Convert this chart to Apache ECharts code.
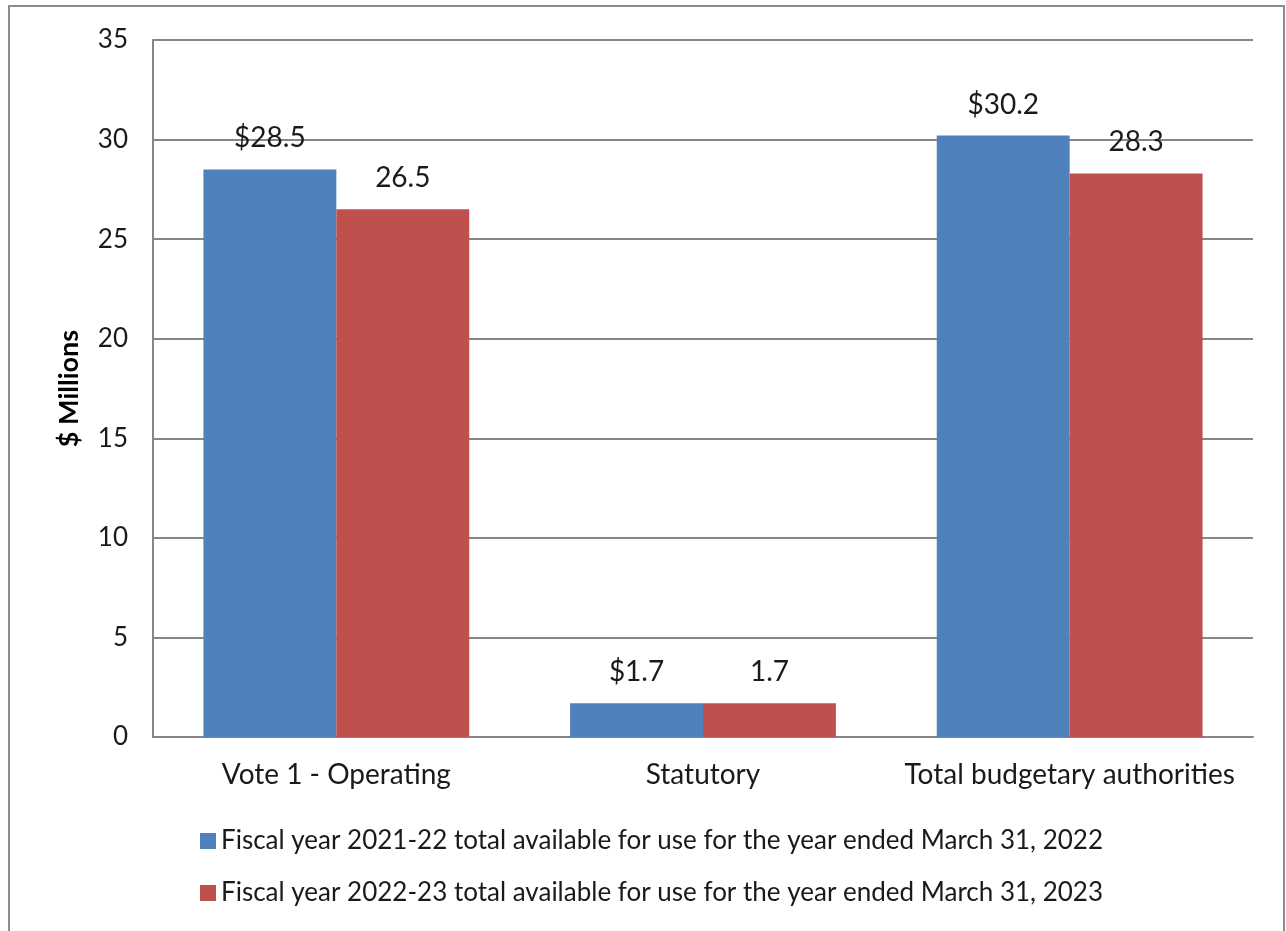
<!DOCTYPE html>
<html>
<head>
<meta charset="utf-8">
<script src="https://cdn.jsdelivr.net/npm/echarts@6/dist/echarts.min.js"></script>
<style>
	html, body { margin: 0; padding: 0; background: #fff; }
	#frame { position: absolute; left: 8px; top: 5px; width: 1277px; height: 930px; border: 2px solid #8c8c8c; border-bottom: none; box-sizing: border-box; }
	#chart { position: absolute; left: 0; top: 0; width: 1286px; height: 931px; }
</style>
</head>
<body>
<div id="frame"></div>
<div id="chart"></div>
<script>
( function() {

	const categories = ['Vote 1 - Operating', 'Statutory', 'Total budgetary authorities'];
	const seriesNames = [
		'Fiscal year 2021-22 total available for use for the year ended March 31, 2022',
		'Fiscal year 2022-23 total available for use for the year ended March 31, 2023'
	];
	const fy2122 = [28.5, 1.7, 30.2];
	const fy2223 = [26.5, 1.7, 28.3];
	const yTicks = [0, 5, 10, 15, 20, 25, 30, 35];

	const font = 'Lato, "Open Sans", sans-serif';
	const colors = ['#4f81bd', '#c0504d'];
	const textColor = '#1a1a1a';

	const labelStyle = function( prefix ) {
		return {
			show: true,
			position: 'top',
			distance: 17,
			fontFamily: font,
			fontSize: 28,
			color: textColor,
			formatter: p => prefix + p.value.toFixed(1)
		};
	}

	const chart = echarts.init(document.getElementById('chart'));
	chart.setOption({
		animation: false,
		color: colors,
		grid: { left: 153, right: 33, top: 40, bottom: 194, containLabel: false },
		legend: {
			orient: 'vertical',
			left: 195,
			top: 823,
			itemWidth: 16,
			itemHeight: 16,
			itemGap: 26,
			icon: 'rect',
			textStyle: { fontFamily: font, fontSize: 26, color: textColor },
			data: seriesNames
		},
		xAxis: {
			type: 'category',
			data: categories,
			axisLine: { lineStyle: { color: '#868686', width: 2 } },
			axisTick: { show: false },
			axisLabel: { interval: 0, hideOverlap: false, fontFamily: font, fontSize: 28, color: textColor, margin: 24 }
		},
		yAxis: {
			type: 'value',
			min: yTicks[0],
			max: yTicks[yTicks.length - 1],
			interval: 5,
			name: '$ Millions',
			nameLocation: 'middle',
			nameGap: 70,
			nameRotate: 90,
			nameTextStyle: { fontFamily: font, fontSize: 27, fontWeight: 'bold', color: '#000' },
			axisLine: { show: true, lineStyle: { color: '#868686', width: 2 } },
			axisTick: { show: false },
			splitLine: { lineStyle: { color: '#868686', width: 2 } },
			axisLabel: { fontFamily: font, fontSize: 26, color: textColor, margin: 25 }
		},
		series: [
			{
				name: seriesNames[0],
				type: 'bar',
				data: fy2122,
				barGap: '0%',
				barCategoryGap: '27.5%',
				label: labelStyle('$')
			},
			{
				name: seriesNames[1],
				type: 'bar',
				data: fy2223,
				barGap: '0%',
				barCategoryGap: '27.5%',
				label: labelStyle('')
			}
		]
	});

}() );
</script>
</body>
</html>
